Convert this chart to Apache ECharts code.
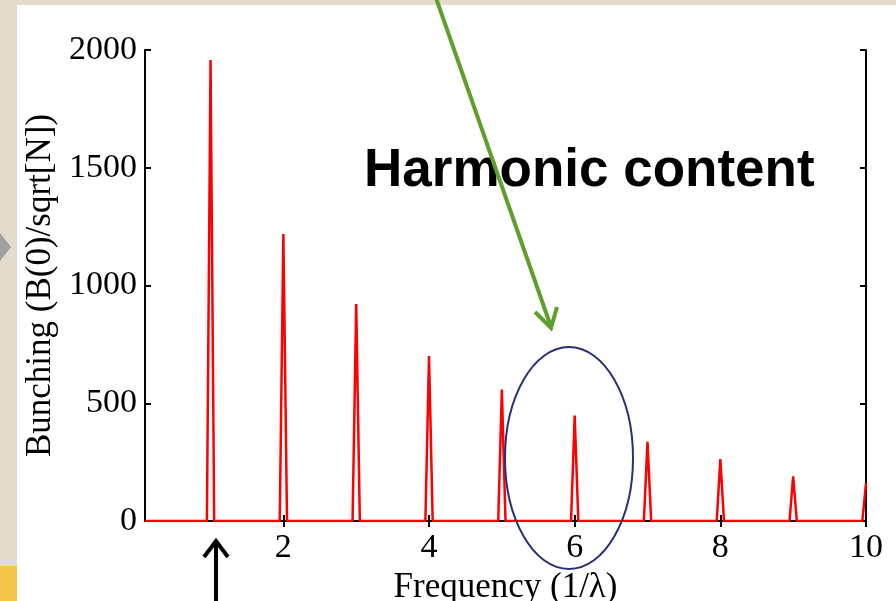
<!DOCTYPE html>
<html>
<head>
<meta charset="utf-8">
<script src="https://cdn.jsdelivr.net/npm/echarts@6/dist/echarts.min.js"></script>
<style>
  html, body { margin: 0; padding: 0; background: #e3dccd; }
  #wrap { position: relative; width: 896px; height: 601px; background: #e3dccd; overflow: hidden; }
  #panel { position: absolute; left: 17px; top: 5px; right: 0; bottom: 0; background: #ffffff; }
  #strip { position: absolute; left: 0; top: 566px; width: 17px; height: 35px; background: #f3c649; }
  #chart { position: absolute; left: 0; top: 0; width: 896px; height: 601px; }
</style>
</head>
<body>
<div id="wrap">
  <div id="panel"></div>
  <div id="strip"></div>
  <div id="chart"></div>
</div>
<script>
// Frequency samples (1/lambda) and bunching values
const frequency = [0.1,
  0.95, 1.0, 1.05,
  1.95, 2.0, 2.05,
  2.95, 3.0, 3.05,
  3.95, 4.0, 4.05,
  4.95, 5.0, 5.05,
  5.95, 6.0, 6.05,
  6.95, 7.0, 7.05,
  7.95, 8.0, 8.05,
  8.95, 9.0, 9.05,
  9.95, 10.0];
const bunching = [0,
  0, 1957, 0,
  0, 1219, 0,
  0, 921, 0,
  0, 700, 0,
  0, 558, 0,
  0, 448, 0,
  0, 336, 0,
  0, 263, 0,
  0, 190, 0,
  0, 161];
const xTickValues = [2, 4, 6, 8, 10];
const yTicks = { min: 0, max: 2000, interval: 500 };
const xRange = { min: 0.1, max: 10 };
const annotationText = 'Harmonic content';
const xTitle = 'Frequency (1/\u03bb)';
const yTitle = 'Bunching (B(0)/sqrt[N])';

const points = frequency.map((f, i) => [f, bunching[i]]);
const serif = '"Liberation Serif", "Times New Roman", serif';

const chart = echarts.init(document.getElementById('chart'), null, { renderer: 'canvas' });
const axisLine = { show: true, lineStyle: { color: '#000', width: 2 } };
chart.setOption({
  backgroundColor: 'transparent',
  animation: false,
  grid: { left: 145, right: 30, top: 50, bottom: 80, containLabel: false, outerBoundsMode: 'none' },
  xAxis: [{
    type: 'value', min: xRange.min, max: xRange.max,
    name: xTitle, nameLocation: 'middle', nameGap: 41,
    nameTextStyle: { fontFamily: serif, fontSize: 35, color: '#000' },
    axisLine: axisLine,
    axisTick: { show: true, inside: true, length: 6, customValues: xTickValues, lineStyle: { color: '#000', width: 2 } },
    axisLabel: { customValues: xTickValues, fontFamily: serif, fontSize: 34, color: '#000', margin: 10 },
    splitLine: { show: false }
  }, {
    type: 'value', position: 'top', min: xRange.min, max: xRange.max,
    axisLine: axisLine,
    axisTick: { show: true, inside: true, length: 6, customValues: xTickValues, lineStyle: { color: '#000', width: 2 } },
    axisLabel: { show: false },
    splitLine: { show: false }
  }],
  yAxis: [{
    type: 'value', min: yTicks.min, max: yTicks.max, interval: yTicks.interval,
    name: yTitle, nameLocation: 'middle', nameGap: 86, nameRotate: 90,
    nameTextStyle: { fontFamily: serif, fontSize: 35, color: '#000' },
    axisLine: axisLine,
    axisTick: { show: true, inside: true, length: 6, lineStyle: { color: '#000', width: 2 } },
    axisLabel: { fontFamily: serif, fontSize: 34, color: '#000', margin: 8, formatter: v => String(v) },
    splitLine: { show: false }
  }, {
    type: 'value', position: 'right', min: yTicks.min, max: yTicks.max, interval: yTicks.interval,
    axisLine: axisLine,
    axisTick: { show: true, inside: true, length: 6, lineStyle: { color: '#000', width: 2 } },
    axisLabel: { show: false },
    splitLine: { show: false }
  }],
  series: [{
    type: 'line', data: points, xAxisIndex: 0, yAxisIndex: 0,
    showSymbol: false, symbol: 'none', smooth: false,
    lineStyle: { color: '#ff0000', width: 2.5 },
    z: 5
  }],
  graphic: [
    { type: 'polygon', shape: { points: [[0, 233], [11, 247], [0, 261]] }, style: { fill: '#a0a0a0' }, z: 1 },
    { type: 'text', left: 364, top: 145, style: { text: annotationText, font: 'bold 53px "Liberation Sans", Arial, sans-serif', fill: '#000' }, z: 10 },
    { type: 'ellipse', shape: { cx: 569, cy: 458, rx: 64, ry: 111 }, style: { fill: 'none', stroke: '#2a2f7c', lineWidth: 2 }, z: 10 },
    { type: 'line', shape: { x1: 436, y1: -2, x2: 550, y2: 324 }, style: { stroke: '#5fa02d', lineWidth: 4 }, z: 10 },
    { type: 'polyline', shape: { points: [[535, 312], [551, 328], [557, 307]] }, style: { stroke: '#5fa02d', lineWidth: 4, fill: 'none', lineJoin: 'miter' }, z: 10 },
    { type: 'line', shape: { x1: 216, y1: 601, x2: 216, y2: 541 }, style: { stroke: '#000', lineWidth: 4 }, z: 10 },
    { type: 'polyline', shape: { points: [[204, 557], [216, 541], [228, 557]] }, style: { stroke: '#000', lineWidth: 4, fill: 'none', lineJoin: 'miter' }, z: 10 }
  ]
});
</script>
</body>
</html>
